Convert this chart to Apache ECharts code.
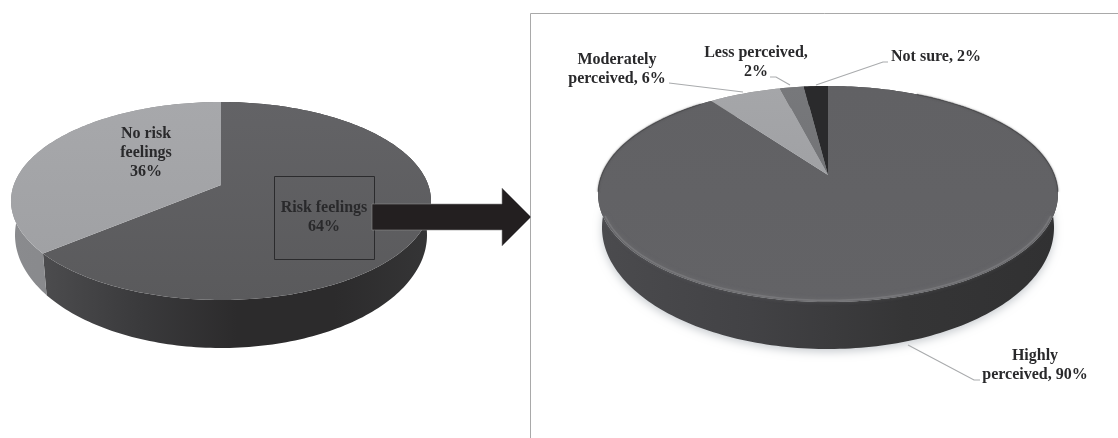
<!DOCTYPE html>
<html><head><meta charset="utf-8">
<style>html,body{margin:0;padding:0;background:#fff}#c{width:1118px;height:438px}</style>
<script src="https://cdn.jsdelivr.net/npm/echarts@6/dist/echarts.min.js"></script>
</head><body><div id="c"></div>
<script>
// ---- data ----
const leftCategories = ['Risk feelings', 'No risk feelings'];
const leftValues = [64, 36];
const rightCategories = ['Highly perceived', 'Moderately perceived', 'Less perceived', 'Not sure'];
const rightValues = [90, 6, 2, 2];
const leftLabels = ['Risk feelings\n64%', 'No risk\nfeelings\n36%'];
const rightLabels = ['Highly\nperceived, 90%', 'Moderately\nperceived, 6%', 'Less perceived,\n2%', 'Not sure, 2%'];

// ---- layout and style ----
const leftGeom = {cx:221, rx:210, top:102, apex:185, bottom:300,
  rim:{cx:221, rx:206, top:122, apex:217, bottom:348}};
const rightGeom = {cx:828, rx:230, top:86, apex:175, bottom:302,
  rim:{cx:828, rx:226, top:106, apex:208, bottom:349}, bevel:true, shadow:true};
const leftTopColors = [['#636366','#5a5a5c'], ['#a7a8ab','#a0a1a4']];
const leftWallColors = [['#4c4c4e','#3a3a3c','#2c2b2c','#2c2b2c','#353536'], ['#8a8b8e','#86878a','#7c7d80']];
const rightTopColors = [['#616164','#636366'], ['#a5a6a9','#a0a1a4'], ['#77787b','#737477'], ['#2a2a2c','#2a2a2c']];
const rightWallColors = [['#4b4b4e','#424245','#353536','#313132'], ['#888','#888','#888'], ['#666','#666','#666'], ['#222','#222','#222']];
const leftLabelPos = [[324,217.5], [146,152.5]];
const rightLabelPos = [[1035,365.5], [617,69.5], [756,62.5], [936,57]];
const leftLeaders = [null, null];
const rightLeaders = [
  [[908,345],[974,380],[980,380]],
  [[669,83],[743,92]],
  [[770,77],[776,77],[790,85]],
  [[888,62],[883,62],[816,85]]
];
const FONT = 'Liberation Serif';
const TEXT = '#29292b';

// projective map: the circle's centre lands on the apex, its rim on the ellipse
function project(g) {
  const lo = g.bottom - g.apex, hi = g.apex - g.top;
  const cc = -(lo - hi) / (lo + hi);
  const aa = hi + g.top * cc;
  const K = g.rx * Math.sqrt(1 - cc*cc);
  return function (theta) {
    const u = Math.sin(theta), v = -Math.cos(theta), d = 1 + cc*v;
    return [g.cx + K*u/d, (aa*v + g.apex)/d];
  };
}
function arc(map, t0, t1) {
  const n = Math.max(4, Math.ceil((t1-t0)/0.02)), pts = [];
  for (let i=0;i<=n;i++) pts.push(map(t0+(t1-t0)*i/n));
  return pts;
}
function span(values, idx) {
  const total = values.reduce((a,b)=>a+b,0);
  let s = 0; for (let i=0;i<idx;i++) s += values[i];
  return [s/total*2*Math.PI, (s+values[idx])/total*2*Math.PI];
}
function grad(h, cols) {
  const stops = cols.map((color,i)=>({offset:i/(cols.length-1), color}));
  return new echarts.graphic.LinearGradient(0, 0, h?1:0, h?0:1, stops);
}
function wallSeries(name, g, values, cols) {
  const up = project(g), low = project(g.rim);
  return {
    type:'custom', name, coordinateSystem:'none', z:1, silent:true, animation:false,
    data: values,
    renderItem(params) {
      const [t0,t1] = span(values, params.dataIndex);
      const children = [];
      if (g.shadow && params.dataIndex === 0) {
        children.push({type:'polygon', shape:{points:arc(low,0,2*Math.PI)},
          style:{fill:'#dcdfe2', shadowBlur:9, shadowColor:'#c9cdd1', shadowOffsetY:3}});
      }
      children.push({type:'polygon', shape:{points:arc(up,t0,t1).concat(arc(low,t0,t1).reverse())},
        style:{fill:grad(true, cols[params.dataIndex])}});
      return {type:'group', children};
    }
  };
}
function topSeries(name, g, values, cols, labels, pos, leaders) {
  const map = project(g);
  return {
    type:'custom', name, coordinateSystem:'none', z:2, silent:true, animation:false,
    data: values,
    renderItem(params) {
      const i = params.dataIndex;
      const [t0,t1] = span(values, i);
      const children = [{type:'polygon',
        shape:{points:[[g.cx,g.apex]].concat(arc(map,t0,t1))},
        style:{fill:grad(false, cols[i])}}];
      if (g.bevel && i === 0) {
        const my = (g.top+g.bottom)/2;
        const inset = a => a.map(p=>[g.cx+(p[0]-g.cx)*.99, my+(p[1]-my)*.985]);
        children.push({type:'polyline', shape:{points:inset(arc(map,Math.PI*.62,Math.PI*1.38))},
          style:{stroke:'rgba(125,125,128,.7)', lineWidth:1.6, fill:null, shadowBlur:4, shadowColor:'#77777a'}});
        children.push({type:'polyline', shape:{points:arc(map,Math.PI*.15,Math.PI*.55)},
          style:{stroke:'rgba(60,60,62,.5)', lineWidth:1.2, fill:null, shadowBlur:2, shadowColor:'#454547'}});
        children.push({type:'polyline', shape:{points:arc(map,Math.PI*1.45,Math.PI*1.78)},
          style:{stroke:'rgba(60,60,62,.5)', lineWidth:1.2, fill:null, shadowBlur:2, shadowColor:'#454547'}});
      }
      if (leaders[i]) children.push({type:'polyline', shape:{points:leaders[i]},
        style:{stroke:'#a9abad', lineWidth:1.2, fill:null}});
      children.push({type:'text', z2:50, style:{text:labels[i], x:pos[i][0], y:pos[i][1],
        align:'center', verticalAlign:'middle', fontFamily:FONT, fontWeight:'bold',
        fontSize:16, lineHeight:19, fill:TEXT}});
      return {type:'group', children};
    }
  };
}

const chart = echarts.init(document.getElementById('c'), null, {renderer:'canvas'});
chart.setOption({
  backgroundColor:'#fff',
  animation:false,
  graphic:[
    {type:'polyline', z:0, silent:true, shape:{points:[[530.5,438],[530.5,13.5],[1118,13.5]]},
      style:{stroke:'#a9a9a9', lineWidth:1, fill:null}},
    {type:'rect', z:5, silent:true, shape:{x:274.5,y:176.5,width:100,height:83},
      style:{stroke:'#2b2b2d', lineWidth:1, fill:null}},
    {type:'polygon', z:6, silent:true,
      shape:{points:[[372,204],[502,204],[502,188],[531,217],[502,246],[502,230],[372,230]]},
      style:{fill:'#231f20', stroke:'#8d8d8f', lineWidth:.6}}
  ],
  series:[
    wallSeries('left walls', leftGeom, leftValues, leftWallColors),
    topSeries(leftCategories.join(' / '), leftGeom, leftValues, leftTopColors, leftLabels, leftLabelPos, leftLeaders),
    wallSeries('right walls', rightGeom, rightValues, rightWallColors),
    topSeries(rightCategories.join(' / '), rightGeom, rightValues, rightTopColors, rightLabels, rightLabelPos, rightLeaders)
  ]
});
</script></body></html>
